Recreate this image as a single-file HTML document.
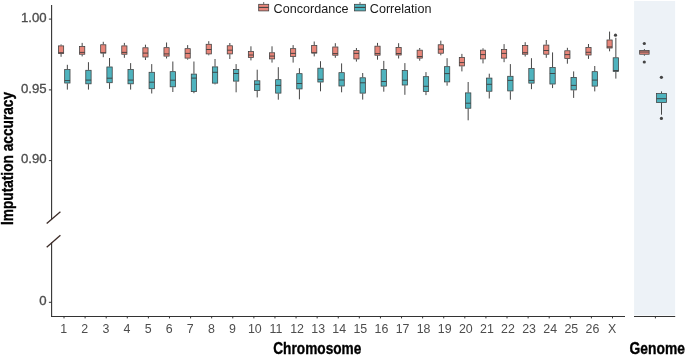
<!DOCTYPE html>
<html><head><meta charset="utf-8"><title>Imputation accuracy</title>
<style>
html,body{margin:0;padding:0;background:#fff;}
body{width:685px;height:356px;overflow:hidden;font-family:"Liberation Sans",sans-serif;}
.wrap{width:685px;height:356px;will-change:transform;}
svg{display:block;}
svg text{font-family:"Liberation Sans",sans-serif;}
.tk{font-size:12px;fill:#4d4d4d;}
.ytk{stroke:#4d4d4d;stroke-width:0.3px;}
.xtk{font-size:12.4px;}
.ttl{font-size:16px;font-weight:bold;fill:#000;stroke:#000;stroke-width:0.35px;}
.lg{font-size:12.6px;fill:#1a1a1a;}
</style></head><body>
<div class="wrap">
<svg width="685" height="356" viewBox="0 0 685 356">
<rect width="685" height="356" fill="#ffffff"/>
<rect x="634.1" y="1" width="41" height="314.4" fill="#edf2f7"/>
<!-- axes -->
<g stroke="#333" stroke-width="1.1" fill="none">
<path d="M51.6 5V219.5"/>
<path d="M51.6 242.5V317"/>
<path d="M51 316.5H625"/>
<path d="M634 316.5H675.2"/>
</g>
<g stroke="#3b2b27" stroke-width="1.3" fill="none">
<path d="M46.7 223.6L60.4 211.8"/>
<path d="M46.7 247.2L60.4 235.3"/>
</g>
<g stroke="#333" stroke-width="1" fill="none">
<path d="M48.9 19.1H51.6M48.9 89.9H51.6M48.9 160.6H51.6M48.9 302.3H51.6"/>
<path d="M64.00 316.4V318.4M85.10 316.4V318.4M106.19 316.4V318.4M127.29 316.4V318.4M148.38 316.4V318.4M169.48 316.4V318.4M190.58 316.4V318.4M211.67 316.4V318.4M232.77 316.4V318.4M253.86 316.4V318.4M274.96 316.4V318.4M296.06 316.4V318.4M317.15 316.4V318.4M338.25 316.4V318.4M359.34 316.4V318.4M380.44 316.4V318.4M401.54 316.4V318.4M422.63 316.4V318.4M443.73 316.4V318.4M464.82 316.4V318.4M485.92 316.4V318.4M507.02 316.4V318.4M528.11 316.4V318.4M549.21 316.4V318.4M570.30 316.4V318.4M591.40 316.4V318.4M612.50 316.4V318.4M655.4 316.4V318.4"/>
</g>
<!-- y tick labels -->
<g class="tk ytk" text-anchor="end">
<text transform="translate(46.6,21.6) scale(1.1,1)">1.00</text>
<text transform="translate(46.6,92.5) scale(1.1,1)">0.95</text>
<text transform="translate(46.6,163.2) scale(1.1,1)">0.90</text>
<text transform="translate(46.6,304.9) scale(1.1,1)">0</text>
</g>
<g class="tk xtk">
<text x="63.70" y="333.2" text-anchor="middle">1</text>
<text x="84.80" y="333.2" text-anchor="middle">2</text>
<text x="105.89" y="333.2" text-anchor="middle">3</text>
<text x="126.99" y="333.2" text-anchor="middle">4</text>
<text x="148.08" y="333.2" text-anchor="middle">5</text>
<text x="169.18" y="333.2" text-anchor="middle">6</text>
<text x="190.28" y="333.2" text-anchor="middle">7</text>
<text x="211.37" y="333.2" text-anchor="middle">8</text>
<text x="232.47" y="333.2" text-anchor="middle">9</text>
<text x="254.86" y="333.2" text-anchor="middle">10</text>
<text x="275.96" y="333.2" text-anchor="middle">11</text>
<text x="297.06" y="333.2" text-anchor="middle">12</text>
<text x="318.15" y="333.2" text-anchor="middle">13</text>
<text x="339.25" y="333.2" text-anchor="middle">14</text>
<text x="360.34" y="333.2" text-anchor="middle">15</text>
<text x="381.44" y="333.2" text-anchor="middle">16</text>
<text x="402.54" y="333.2" text-anchor="middle">17</text>
<text x="423.63" y="333.2" text-anchor="middle">18</text>
<text x="444.73" y="333.2" text-anchor="middle">19</text>
<text x="465.82" y="333.2" text-anchor="middle">20</text>
<text x="486.92" y="333.2" text-anchor="middle">21</text>
<text x="508.02" y="333.2" text-anchor="middle">22</text>
<text x="529.11" y="333.2" text-anchor="middle">23</text>
<text x="550.21" y="333.2" text-anchor="middle">24</text>
<text x="571.30" y="333.2" text-anchor="middle">25</text>
<text x="592.40" y="333.2" text-anchor="middle">26</text>
<text x="612.20" y="333.2" text-anchor="middle">X</text>
</g>
<!-- titles -->
<text class="ttl" transform="translate(12.8,158.5) rotate(-90) scale(0.857,1)" text-anchor="middle">Imputation accuracy</text>
<text class="ttl" transform="translate(317.3,354.2) scale(0.855,1)" text-anchor="middle">Chromosome</text>
<text class="ttl" transform="translate(657.2,354.3) scale(0.865,1)" text-anchor="middle">Genome</text>
<!-- legend -->
<g>
<path d="M263.7 2V4" stroke="#3c3c3c" stroke-width="0.75"/>
<rect x="258.7" y="4.3" width="10" height="6.6" fill="#E8867A" stroke="#3c3c3c" stroke-width="0.75"/>
<path d="M258.7 7.4H268.7" stroke="#3c3c3c" stroke-width="1"/>
<text class="lg" x="273.6" y="13.1">Concordance</text>
<path d="M360 2V4" stroke="#3c3c3c" stroke-width="0.75"/>
<rect x="354.6" y="4.3" width="10.8" height="6.6" fill="#4FB3BE" stroke="#3c3c3c" stroke-width="0.75"/>
<path d="M354.6 7.4H365.4" stroke="#3c3c3c" stroke-width="1"/>
<text class="lg" x="369.8" y="13.1">Correlation</text>
</g>
<!-- boxes -->
<g>
<path d="M61.07 44.40V45.50M61.07 53.90V56.80" stroke="#3c3c3c" stroke-width="0.95" fill="none"/>
<rect x="58.47" y="45.88" width="5.20" height="7.65" fill="#E8867A" stroke="#3c3c3c" stroke-width="0.75"/>
<path d="M58.47 52.70H63.67" stroke="#3c3c3c" stroke-width="0.9" fill="none"/>
<path d="M67.35 64.80V69.20M67.35 83.40V89.60" stroke="#3c3c3c" stroke-width="0.95" fill="none"/>
<rect x="64.67" y="69.58" width="5.35" height="13.45" fill="#4FB3BE" stroke="#3c3c3c" stroke-width="0.75"/>
<path d="M64.67 80.60H70.02" stroke="#3c3c3c" stroke-width="0.9" fill="none"/>
<path d="M82.17 42.90V46.10M82.17 54.60V56.40" stroke="#3c3c3c" stroke-width="0.95" fill="none"/>
<rect x="79.57" y="46.48" width="5.20" height="7.75" fill="#E8867A" stroke="#3c3c3c" stroke-width="0.75"/>
<path d="M79.57 52.40H84.77" stroke="#3c3c3c" stroke-width="0.9" fill="none"/>
<path d="M88.45 62.20V69.90M88.45 84.20V89.60" stroke="#3c3c3c" stroke-width="0.95" fill="none"/>
<rect x="85.77" y="70.28" width="5.35" height="13.55" fill="#4FB3BE" stroke="#3c3c3c" stroke-width="0.75"/>
<path d="M85.77 80.10H91.12" stroke="#3c3c3c" stroke-width="0.9" fill="none"/>
<path d="M103.27 41.80V44.40M103.27 53.40V57.20" stroke="#3c3c3c" stroke-width="0.95" fill="none"/>
<rect x="100.67" y="44.77" width="5.20" height="8.25" fill="#E8867A" stroke="#3c3c3c" stroke-width="0.75"/>
<path d="M100.67 52.80H105.87" stroke="#3c3c3c" stroke-width="0.9" fill="none"/>
<path d="M109.54 58.00V66.60M109.54 83.10V88.90" stroke="#3c3c3c" stroke-width="0.95" fill="none"/>
<rect x="106.87" y="66.97" width="5.35" height="15.75" fill="#4FB3BE" stroke="#3c3c3c" stroke-width="0.75"/>
<path d="M106.87 78.20H112.22" stroke="#3c3c3c" stroke-width="0.9" fill="none"/>
<path d="M124.36 42.90V45.50M124.36 54.60V57.80" stroke="#3c3c3c" stroke-width="0.95" fill="none"/>
<rect x="121.76" y="45.88" width="5.20" height="8.35" fill="#E8867A" stroke="#3c3c3c" stroke-width="0.75"/>
<path d="M121.76 52.40H126.96" stroke="#3c3c3c" stroke-width="0.9" fill="none"/>
<path d="M130.64 63.10V69.20M130.64 84.20V89.60" stroke="#3c3c3c" stroke-width="0.95" fill="none"/>
<rect x="127.96" y="69.58" width="5.35" height="14.25" fill="#4FB3BE" stroke="#3c3c3c" stroke-width="0.75"/>
<path d="M127.96 80.10H133.31" stroke="#3c3c3c" stroke-width="0.9" fill="none"/>
<path d="M145.46 44.70V47.40M145.46 57.40V60.00" stroke="#3c3c3c" stroke-width="0.95" fill="none"/>
<rect x="142.86" y="47.77" width="5.20" height="9.25" fill="#E8867A" stroke="#3c3c3c" stroke-width="0.75"/>
<path d="M142.86 53.10H148.06" stroke="#3c3c3c" stroke-width="0.9" fill="none"/>
<path d="M151.73 64.10V71.90M151.73 89.10V93.50" stroke="#3c3c3c" stroke-width="0.95" fill="none"/>
<rect x="149.06" y="72.28" width="5.35" height="16.45" fill="#4FB3BE" stroke="#3c3c3c" stroke-width="0.75"/>
<path d="M149.06 82.20H154.41" stroke="#3c3c3c" stroke-width="0.9" fill="none"/>
<path d="M166.55 42.50V47.30M166.55 56.50V58.50" stroke="#3c3c3c" stroke-width="0.95" fill="none"/>
<rect x="163.95" y="47.67" width="5.20" height="8.45" fill="#E8867A" stroke="#3c3c3c" stroke-width="0.75"/>
<path d="M163.95 53.90H169.15" stroke="#3c3c3c" stroke-width="0.9" fill="none"/>
<path d="M172.83 61.50V71.30M172.83 87.20V92.00" stroke="#3c3c3c" stroke-width="0.95" fill="none"/>
<rect x="170.15" y="71.67" width="5.35" height="15.15" fill="#4FB3BE" stroke="#3c3c3c" stroke-width="0.75"/>
<path d="M170.15 80.20H175.50" stroke="#3c3c3c" stroke-width="0.9" fill="none"/>
<path d="M187.65 45.10V48.30M187.65 58.50V59.70" stroke="#3c3c3c" stroke-width="0.95" fill="none"/>
<rect x="185.05" y="48.67" width="5.20" height="9.45" fill="#E8867A" stroke="#3c3c3c" stroke-width="0.75"/>
<path d="M185.05 53.40H190.25" stroke="#3c3c3c" stroke-width="0.9" fill="none"/>
<path d="M193.93 61.50V73.70M193.93 92.00V93.20" stroke="#3c3c3c" stroke-width="0.95" fill="none"/>
<rect x="191.25" y="74.08" width="5.35" height="17.55" fill="#4FB3BE" stroke="#3c3c3c" stroke-width="0.75"/>
<path d="M191.25 78.10H196.60" stroke="#3c3c3c" stroke-width="0.9" fill="none"/>
<path d="M208.75 41.20V43.90M208.75 54.30V55.30" stroke="#3c3c3c" stroke-width="0.95" fill="none"/>
<rect x="206.15" y="44.27" width="5.20" height="9.65" fill="#E8867A" stroke="#3c3c3c" stroke-width="0.75"/>
<path d="M206.15 49.50H211.35" stroke="#3c3c3c" stroke-width="0.9" fill="none"/>
<path d="M215.02 59.00V66.50M215.02 83.50V84.40" stroke="#3c3c3c" stroke-width="0.95" fill="none"/>
<rect x="212.35" y="66.88" width="5.35" height="16.25" fill="#4FB3BE" stroke="#3c3c3c" stroke-width="0.75"/>
<path d="M212.35 72.30H217.70" stroke="#3c3c3c" stroke-width="0.9" fill="none"/>
<path d="M229.84 43.00V45.40M229.84 54.30V59.00" stroke="#3c3c3c" stroke-width="0.95" fill="none"/>
<rect x="227.24" y="45.77" width="5.20" height="8.15" fill="#E8867A" stroke="#3c3c3c" stroke-width="0.75"/>
<path d="M227.24 50.20H232.44" stroke="#3c3c3c" stroke-width="0.9" fill="none"/>
<path d="M236.12 64.10V69.10M236.12 81.50V92.30" stroke="#3c3c3c" stroke-width="0.95" fill="none"/>
<rect x="233.44" y="69.47" width="5.35" height="11.65" fill="#4FB3BE" stroke="#3c3c3c" stroke-width="0.75"/>
<path d="M233.44 73.50H238.79" stroke="#3c3c3c" stroke-width="0.9" fill="none"/>
<path d="M250.94 46.30V51.20M250.94 57.80V60.40" stroke="#3c3c3c" stroke-width="0.95" fill="none"/>
<rect x="248.34" y="51.58" width="5.20" height="5.85" fill="#E8867A" stroke="#3c3c3c" stroke-width="0.75"/>
<path d="M248.34 55.00H253.54" stroke="#3c3c3c" stroke-width="0.9" fill="none"/>
<path d="M257.21 69.70V80.40M257.21 90.90V97.40" stroke="#3c3c3c" stroke-width="0.95" fill="none"/>
<rect x="254.54" y="80.78" width="5.35" height="9.75" fill="#4FB3BE" stroke="#3c3c3c" stroke-width="0.75"/>
<path d="M254.54 84.30H259.89" stroke="#3c3c3c" stroke-width="0.9" fill="none"/>
<path d="M272.03 46.30V52.40M272.03 59.30V62.60" stroke="#3c3c3c" stroke-width="0.95" fill="none"/>
<rect x="269.44" y="52.77" width="5.20" height="6.15" fill="#E8867A" stroke="#3c3c3c" stroke-width="0.75"/>
<path d="M269.44 56.10H274.63" stroke="#3c3c3c" stroke-width="0.9" fill="none"/>
<path d="M278.31 67.20V79.30M278.31 93.50V99.70" stroke="#3c3c3c" stroke-width="0.95" fill="none"/>
<rect x="275.63" y="79.67" width="5.35" height="13.45" fill="#4FB3BE" stroke="#3c3c3c" stroke-width="0.75"/>
<path d="M275.63 85.40H280.99" stroke="#3c3c3c" stroke-width="0.9" fill="none"/>
<path d="M293.13 45.10V48.30M293.13 56.80V62.60" stroke="#3c3c3c" stroke-width="0.95" fill="none"/>
<rect x="290.53" y="48.67" width="5.20" height="7.75" fill="#E8867A" stroke="#3c3c3c" stroke-width="0.75"/>
<path d="M290.53 53.40H295.73" stroke="#3c3c3c" stroke-width="0.9" fill="none"/>
<path d="M299.41 68.20V73.30M299.41 89.30V99.30" stroke="#3c3c3c" stroke-width="0.95" fill="none"/>
<rect x="296.73" y="73.67" width="5.35" height="15.25" fill="#4FB3BE" stroke="#3c3c3c" stroke-width="0.75"/>
<path d="M296.73 83.50H302.08" stroke="#3c3c3c" stroke-width="0.9" fill="none"/>
<path d="M314.23 41.50V45.10M314.23 53.40V56.40" stroke="#3c3c3c" stroke-width="0.95" fill="none"/>
<rect x="311.63" y="45.48" width="5.20" height="7.55" fill="#E8867A" stroke="#3c3c3c" stroke-width="0.75"/>
<path d="M311.63 52.80H316.83" stroke="#3c3c3c" stroke-width="0.9" fill="none"/>
<path d="M320.50 61.20V67.80M320.50 82.40V91.30" stroke="#3c3c3c" stroke-width="0.95" fill="none"/>
<rect x="317.83" y="68.17" width="5.35" height="13.85" fill="#4FB3BE" stroke="#3c3c3c" stroke-width="0.75"/>
<path d="M317.83 79.30H323.18" stroke="#3c3c3c" stroke-width="0.9" fill="none"/>
<path d="M335.32 43.20V46.60M335.32 55.60V57.80" stroke="#3c3c3c" stroke-width="0.95" fill="none"/>
<rect x="332.72" y="46.98" width="5.20" height="8.25" fill="#E8867A" stroke="#3c3c3c" stroke-width="0.75"/>
<path d="M332.72 53.60H337.92" stroke="#3c3c3c" stroke-width="0.9" fill="none"/>
<path d="M341.60 63.40V72.30M341.60 86.40V92.30" stroke="#3c3c3c" stroke-width="0.95" fill="none"/>
<rect x="338.92" y="72.67" width="5.35" height="13.35" fill="#4FB3BE" stroke="#3c3c3c" stroke-width="0.75"/>
<path d="M338.92 80.00H344.27" stroke="#3c3c3c" stroke-width="0.9" fill="none"/>
<path d="M356.42 48.00V50.20M356.42 59.30V61.60" stroke="#3c3c3c" stroke-width="0.95" fill="none"/>
<rect x="353.82" y="50.58" width="5.20" height="8.35" fill="#E8867A" stroke="#3c3c3c" stroke-width="0.75"/>
<path d="M353.82 53.40H359.02" stroke="#3c3c3c" stroke-width="0.9" fill="none"/>
<path d="M362.69 73.00V77.40M362.69 93.50V99.60" stroke="#3c3c3c" stroke-width="0.95" fill="none"/>
<rect x="360.02" y="77.78" width="5.35" height="15.35" fill="#4FB3BE" stroke="#3c3c3c" stroke-width="0.75"/>
<path d="M360.02 82.80H365.37" stroke="#3c3c3c" stroke-width="0.9" fill="none"/>
<path d="M377.51 42.90V45.80M377.51 55.60V59.70" stroke="#3c3c3c" stroke-width="0.95" fill="none"/>
<rect x="374.91" y="46.17" width="5.20" height="9.05" fill="#E8867A" stroke="#3c3c3c" stroke-width="0.75"/>
<path d="M374.91 53.60H380.11" stroke="#3c3c3c" stroke-width="0.9" fill="none"/>
<path d="M383.79 60.90V69.10M383.79 86.50V91.70" stroke="#3c3c3c" stroke-width="0.95" fill="none"/>
<rect x="381.11" y="69.47" width="5.35" height="16.65" fill="#4FB3BE" stroke="#3c3c3c" stroke-width="0.75"/>
<path d="M381.11 81.50H386.46" stroke="#3c3c3c" stroke-width="0.9" fill="none"/>
<path d="M398.61 43.20V47.00M398.61 55.40V58.50" stroke="#3c3c3c" stroke-width="0.95" fill="none"/>
<rect x="396.01" y="47.38" width="5.20" height="7.65" fill="#E8867A" stroke="#3c3c3c" stroke-width="0.75"/>
<path d="M396.01 53.50H401.21" stroke="#3c3c3c" stroke-width="0.9" fill="none"/>
<path d="M404.89 63.10V70.20M404.89 85.40V94.80" stroke="#3c3c3c" stroke-width="0.95" fill="none"/>
<rect x="402.21" y="70.58" width="5.35" height="14.45" fill="#4FB3BE" stroke="#3c3c3c" stroke-width="0.75"/>
<path d="M402.21 80.20H407.56" stroke="#3c3c3c" stroke-width="0.9" fill="none"/>
<path d="M419.71 48.00V49.80M419.71 58.50V60.70" stroke="#3c3c3c" stroke-width="0.95" fill="none"/>
<rect x="417.11" y="50.17" width="5.20" height="7.95" fill="#E8867A" stroke="#3c3c3c" stroke-width="0.75"/>
<path d="M417.11 56.50H422.31" stroke="#3c3c3c" stroke-width="0.9" fill="none"/>
<path d="M425.98 72.10V76.30M425.98 91.80V95.10" stroke="#3c3c3c" stroke-width="0.95" fill="none"/>
<rect x="423.31" y="76.67" width="5.35" height="14.75" fill="#4FB3BE" stroke="#3c3c3c" stroke-width="0.75"/>
<path d="M423.31 86.30H428.66" stroke="#3c3c3c" stroke-width="0.9" fill="none"/>
<path d="M440.80 40.70V44.40M440.80 53.60V55.30" stroke="#3c3c3c" stroke-width="0.95" fill="none"/>
<rect x="438.20" y="44.77" width="5.20" height="8.45" fill="#E8867A" stroke="#3c3c3c" stroke-width="0.75"/>
<path d="M438.20 49.20H443.40" stroke="#3c3c3c" stroke-width="0.9" fill="none"/>
<path d="M447.08 58.20V66.30M447.08 82.30V85.70" stroke="#3c3c3c" stroke-width="0.95" fill="none"/>
<rect x="444.40" y="66.67" width="5.35" height="15.25" fill="#4FB3BE" stroke="#3c3c3c" stroke-width="0.75"/>
<path d="M444.40 73.60H449.75" stroke="#3c3c3c" stroke-width="0.9" fill="none"/>
<path d="M461.90 53.90V57.10M461.90 66.30V71.40" stroke="#3c3c3c" stroke-width="0.95" fill="none"/>
<rect x="459.30" y="57.48" width="5.20" height="8.45" fill="#E8867A" stroke="#3c3c3c" stroke-width="0.75"/>
<path d="M459.30 62.60H464.50" stroke="#3c3c3c" stroke-width="0.9" fill="none"/>
<path d="M468.17 82.00V92.50M468.17 108.60V120.30" stroke="#3c3c3c" stroke-width="0.95" fill="none"/>
<rect x="465.50" y="92.88" width="5.35" height="15.35" fill="#4FB3BE" stroke="#3c3c3c" stroke-width="0.75"/>
<path d="M465.50 103.20H470.85" stroke="#3c3c3c" stroke-width="0.9" fill="none"/>
<path d="M483.00 48.30V49.80M483.00 59.30V63.40" stroke="#3c3c3c" stroke-width="0.95" fill="none"/>
<rect x="480.39" y="50.17" width="5.20" height="8.75" fill="#E8867A" stroke="#3c3c3c" stroke-width="0.75"/>
<path d="M480.39 54.60H485.59" stroke="#3c3c3c" stroke-width="0.9" fill="none"/>
<path d="M489.27 73.70V77.70M489.27 91.60V98.50" stroke="#3c3c3c" stroke-width="0.95" fill="none"/>
<rect x="486.59" y="78.08" width="5.35" height="13.15" fill="#4FB3BE" stroke="#3c3c3c" stroke-width="0.75"/>
<path d="M486.59 84.30H491.94" stroke="#3c3c3c" stroke-width="0.9" fill="none"/>
<path d="M504.09 44.10V49.20M504.09 58.50V62.20" stroke="#3c3c3c" stroke-width="0.95" fill="none"/>
<rect x="501.49" y="49.58" width="5.20" height="8.55" fill="#E8867A" stroke="#3c3c3c" stroke-width="0.75"/>
<path d="M501.49 53.40H506.69" stroke="#3c3c3c" stroke-width="0.9" fill="none"/>
<path d="M510.37 64.10V75.90M510.37 91.30V99.70" stroke="#3c3c3c" stroke-width="0.95" fill="none"/>
<rect x="507.69" y="76.28" width="5.35" height="14.65" fill="#4FB3BE" stroke="#3c3c3c" stroke-width="0.75"/>
<path d="M507.69 80.40H513.04" stroke="#3c3c3c" stroke-width="0.9" fill="none"/>
<path d="M525.19 42.20V45.10M525.19 54.60V56.50" stroke="#3c3c3c" stroke-width="0.95" fill="none"/>
<rect x="522.59" y="45.48" width="5.20" height="8.75" fill="#E8867A" stroke="#3c3c3c" stroke-width="0.75"/>
<path d="M522.59 52.70H527.79" stroke="#3c3c3c" stroke-width="0.9" fill="none"/>
<path d="M531.46 58.20V68.20M531.46 83.50V89.20" stroke="#3c3c3c" stroke-width="0.95" fill="none"/>
<rect x="528.79" y="68.58" width="5.35" height="14.55" fill="#4FB3BE" stroke="#3c3c3c" stroke-width="0.75"/>
<path d="M528.79 80.40H534.14" stroke="#3c3c3c" stroke-width="0.9" fill="none"/>
<path d="M546.28 40.00V44.70M546.28 54.60V57.80" stroke="#3c3c3c" stroke-width="0.95" fill="none"/>
<rect x="543.68" y="45.08" width="5.20" height="9.15" fill="#E8867A" stroke="#3c3c3c" stroke-width="0.75"/>
<path d="M543.68 50.50H548.88" stroke="#3c3c3c" stroke-width="0.9" fill="none"/>
<path d="M552.56 52.40V67.20M552.56 84.40V88.10" stroke="#3c3c3c" stroke-width="0.95" fill="none"/>
<rect x="549.88" y="67.58" width="5.35" height="16.45" fill="#4FB3BE" stroke="#3c3c3c" stroke-width="0.75"/>
<path d="M549.88 73.50H555.23" stroke="#3c3c3c" stroke-width="0.9" fill="none"/>
<path d="M567.38 47.80V50.40M567.38 58.80V63.70" stroke="#3c3c3c" stroke-width="0.95" fill="none"/>
<rect x="564.78" y="50.77" width="5.20" height="7.65" fill="#E8867A" stroke="#3c3c3c" stroke-width="0.75"/>
<path d="M564.78 54.60H569.98" stroke="#3c3c3c" stroke-width="0.9" fill="none"/>
<path d="M573.65 71.40V77.00M573.65 90.30V97.90" stroke="#3c3c3c" stroke-width="0.95" fill="none"/>
<rect x="570.98" y="77.38" width="5.35" height="12.55" fill="#4FB3BE" stroke="#3c3c3c" stroke-width="0.75"/>
<path d="M570.98 85.40H576.33" stroke="#3c3c3c" stroke-width="0.9" fill="none"/>
<path d="M588.48 44.00V47.20M588.48 55.40V58.90" stroke="#3c3c3c" stroke-width="0.95" fill="none"/>
<rect x="585.88" y="47.58" width="5.20" height="7.45" fill="#E8867A" stroke="#3c3c3c" stroke-width="0.75"/>
<path d="M585.88 52.30H591.08" stroke="#3c3c3c" stroke-width="0.9" fill="none"/>
<path d="M594.75 66.00V71.30M594.75 86.50V91.40" stroke="#3c3c3c" stroke-width="0.95" fill="none"/>
<rect x="592.08" y="71.67" width="5.35" height="14.45" fill="#4FB3BE" stroke="#3c3c3c" stroke-width="0.75"/>
<path d="M592.08 80.10H597.42" stroke="#3c3c3c" stroke-width="0.9" fill="none"/>
<path d="M609.57 31.60V39.60M609.57 48.40V51.30" stroke="#3c3c3c" stroke-width="0.95" fill="none"/>
<rect x="606.97" y="39.98" width="5.20" height="8.05" fill="#E8867A" stroke="#3c3c3c" stroke-width="0.75"/>
<path d="M606.97 46.90H612.17" stroke="#3c3c3c" stroke-width="0.9" fill="none"/>
<path d="M615.85 37.80V57.40M615.85 71.80V78.60" stroke="#3c3c3c" stroke-width="0.95" fill="none"/>
<rect x="613.17" y="57.77" width="5.35" height="13.65" fill="#4FB3BE" stroke="#3c3c3c" stroke-width="0.75"/>
<path d="M613.17 70.50H618.52" stroke="#3c3c3c" stroke-width="0.9" fill="none"/>
<circle cx="615.5" cy="35.2" r="1.6" fill="#444"/>
</g>
<g>
<path d="M644.40 49.10V50.10M644.40 54.60V55.70" stroke="#3c3c3c" stroke-width="0.95" fill="none"/>
<rect x="639.67" y="50.48" width="9.45" height="3.75" fill="#E8867A" stroke="#3c3c3c" stroke-width="0.75"/>
<path d="M639.67 52.00H649.12" stroke="#3c3c3c" stroke-width="0.9" fill="none"/>
<path d="M661.50 91.40V93.20M661.50 102.90V114.70" stroke="#3c3c3c" stroke-width="0.95" fill="none"/>
<rect x="656.58" y="93.58" width="9.85" height="8.95" fill="#4FB3BE" stroke="#3c3c3c" stroke-width="0.75"/>
<path d="M656.58 98.70H666.42" stroke="#3c3c3c" stroke-width="0.9" fill="none"/>
<circle cx="644.3" cy="43.5" r="1.6" fill="#444"/>
<circle cx="644.3" cy="62.0" r="1.6" fill="#444"/>
<circle cx="661.4" cy="77.3" r="1.6" fill="#444"/>
<circle cx="661.4" cy="118.4" r="1.6" fill="#444"/>
</g>
</svg>
</div>
</body></html>
